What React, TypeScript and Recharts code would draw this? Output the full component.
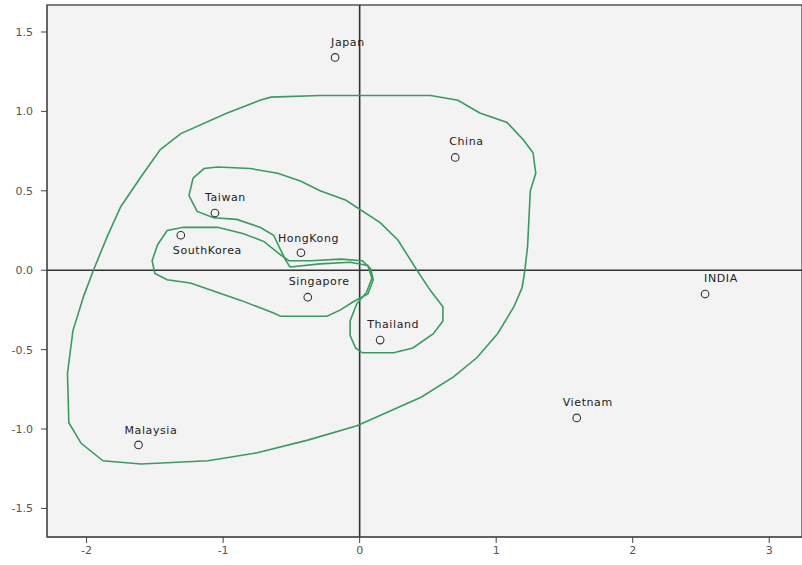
import React from "react";
import {
  ScatterChart,
  Scatter,
  XAxis,
  YAxis,
  ReferenceLine,
  ReferenceArea,
} from "recharts";

// ---- data ----
const countries = [
  "Japan",
  "China",
  "Taiwan",
  "SouthKorea",
  "HongKong",
  "Singapore",
  "Thailand",
  "INDIA",
  "Vietnam",
  "Malaysia",
];
const dim1 = [-0.18, 0.7, -1.06, -1.31, -0.43, -0.38, 0.15, 2.53, 1.59, -1.62];
const dim2 = [1.34, 0.71, 0.36, 0.22, 0.11, -0.17, -0.44, -0.15, -0.93, -1.1];

const xTicks = [-2, -1, 0, 1, 2, 3];
const yTicks = [-1.5, -1.0, -0.5, 0.0, 0.5, 1.0, 1.5];

// hand-drawn green contours, traced in data units
const outerContour: [number, number][] = [
  [-0.65, 1.09], [-0.29, 1.1], [0.52, 1.1], [0.72, 1.07], [0.88, 0.99],
  [1.08, 0.93], [1.2, 0.82], [1.27, 0.74], [1.29, 0.61], [1.25, 0.5],
  [1.23, 0.15], [1.21, 0.0], [1.19, -0.11], [1.13, -0.23], [1.01, -0.4],
  [0.86, -0.55], [0.69, -0.67], [0.45, -0.8], [-0.02, -0.98], [-0.38, -1.07],
  [-0.75, -1.15], [-1.11, -1.2], [-1.6, -1.22], [-1.88, -1.2], [-2.04, -1.09],
  [-2.13, -0.96], [-2.14, -0.65], [-2.1, -0.38], [-2.02, -0.16], [-1.95, 0.0],
  [-1.85, 0.21], [-1.75, 0.4], [-1.6, 0.59], [-1.46, 0.76], [-1.31, 0.86],
  [-0.97, 0.99], [-0.73, 1.07], [-0.65, 1.09],
];
const middleContour: [number, number][] = [
  [-0.51, 0.02], [-0.29, 0.04], [-0.07, 0.05], [0.06, 0.03], [0.09, -0.05],
  [0.05, -0.14], [-0.02, -0.21], [-0.07, -0.32], [-0.07, -0.41], [-0.03, -0.49],
  [0.02, -0.52], [0.25, -0.52], [0.39, -0.49], [0.54, -0.4], [0.61, -0.32],
  [0.61, -0.23], [0.52, -0.13], [0.42, 0.0], [0.28, 0.19], [0.15, 0.3],
  [-0.1, 0.44], [-0.29, 0.5], [-0.43, 0.56], [-0.6, 0.61], [-0.8, 0.64],
  [-1.04, 0.65], [-1.14, 0.64], [-1.22, 0.58], [-1.25, 0.47], [-1.19, 0.37],
  [-1.07, 0.33], [-0.9, 0.32], [-0.73, 0.27], [-0.63, 0.22], [-0.58, 0.13],
  [-0.54, 0.06], [-0.51, 0.02],
];
const innerContour: [number, number][] = [
  [-1.48, 0.16], [-1.41, 0.25], [-1.29, 0.27], [-1.04, 0.27], [-0.85, 0.23],
  [-0.7, 0.18], [-0.6, 0.11], [-0.52, 0.06], [-0.36, 0.06], [-0.14, 0.07],
  [0.02, 0.06], [0.08, 0.01], [0.1, -0.06], [0.06, -0.15], [-0.05, -0.2],
  [-0.14, -0.25], [-0.24, -0.29], [-0.58, -0.29], [-0.63, -0.27], [-0.87, -0.19],
  [-1.24, -0.08], [-1.41, -0.06], [-1.5, -0.02], [-1.52, 0.06], [-1.48, 0.16],
];

// ---- presentation ----
const X_DOMAIN: [number, number] = [-2.29, 3.24];
const Y_DOMAIN: [number, number] = [-1.68, 1.67];

const labelPlacement: Record<string, { dx: number; dy: number }> = {
  Japan: { dx: -4, dy: -14 },
  China: { dx: -6, dy: -15 },
  Taiwan: { dx: -10, dy: -15 },
  SouthKorea: { dx: -8, dy: 16 },
  HongKong: { dx: -23, dy: -14 },
  Singapore: { dx: -19, dy: -15 },
  Thailand: { dx: -13, dy: -15 },
  INDIA: { dx: -1, dy: -15 },
  Vietnam: { dx: -14, dy: -15 },
  Malaysia: { dx: -14, dy: -14 },
};

const points = countries.map((name, i) => ({ name, x: dim1[i], y: dim2[i] }));
const toPts = (c: [number, number][]) => c.map(([x, y]) => ({ x, y }));

const PointShape = (props: any) => {
  const { cx, cy, payload } = props;
  const p = labelPlacement[payload.name] || { dx: 0, dy: -14 };
  return (
    <g>
      <circle cx={cx} cy={cy} r={3.8} fill="none" stroke="#333" strokeWidth={1.1} />
      <text
        x={cx + p.dx}
        y={cy + p.dy}
        dominantBaseline="middle"
        fontSize={11}
        letterSpacing={0.6}
        fontFamily="DejaVu Sans, sans-serif"
        fill="#222"
      >
        {payload.name}
      </text>
    </g>
  );
};

const NoDot = () => <g />;

const tickStyle = { fontSize: 11, fill: "#555", fontFamily: "DejaVu Sans, sans-serif" };

export default function App() {
  return (
    <div style={{ position: "absolute", left: 0, top: 0, background: "#fff" }}>
      <ScatterChart
        width={802}
        height={565}
        margin={{ top: 5, right: 0, bottom: 0, left: 0 }}
      >
        <ReferenceArea
          x1={X_DOMAIN[0]}
          x2={X_DOMAIN[1]}
          y1={Y_DOMAIN[0]}
          y2={Y_DOMAIN[1]}
          fill="#f3f3f3"
          fillOpacity={1}
          stroke="#555"
          strokeWidth={1.4}
        />
        <XAxis
          type="number"
          dataKey="x"
          domain={X_DOMAIN}
          ticks={xTicks}
          allowDataOverflow
          height={28}
          tickSize={6}
          tickMargin={3}
          stroke="#444"
          tick={tickStyle}
        />
        <YAxis
          type="number"
          dataKey="y"
          domain={Y_DOMAIN}
          ticks={yTicks}
          allowDataOverflow
          width={47}
          tickSize={6}
          tickMargin={8}
          stroke="#444"
          tick={tickStyle}
          tickFormatter={(v: number) => v.toFixed(1)}
        />
        <ReferenceLine x={0} stroke="#333" strokeWidth={1.6} />
        <ReferenceLine y={0} stroke="#333" strokeWidth={1.6} />
        <Scatter
          data={toPts(outerContour)}
          line={{ stroke: "#3a9a60", strokeWidth: 1.6 }}
          shape={NoDot}
          isAnimationActive={false}
        />
        <Scatter
          data={toPts(middleContour)}
          line={{ stroke: "#3a9a60", strokeWidth: 1.6 }}
          shape={NoDot}
          isAnimationActive={false}
        />
        <Scatter
          data={toPts(innerContour)}
          line={{ stroke: "#3a9a60", strokeWidth: 1.6 }}
          shape={NoDot}
          isAnimationActive={false}
        />
        <Scatter data={points} shape={PointShape} isAnimationActive={false} />
      </ScatterChart>
    </div>
  );
}
